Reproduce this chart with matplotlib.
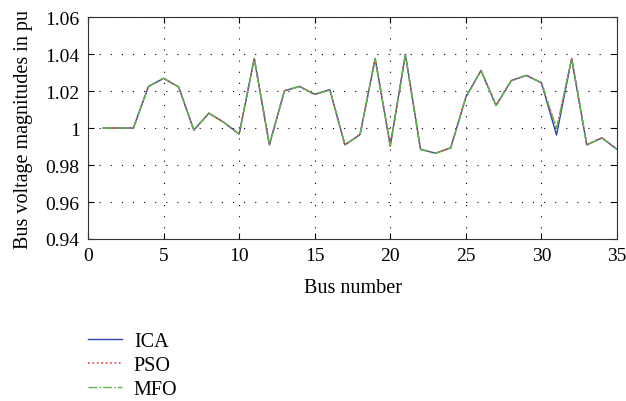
import matplotlib
matplotlib.use('Agg')
import matplotlib.pyplot as plt

plt.rcParams['font.family'] = ['Liberation Serif', 'DejaVu Serif']

bus = list(range(1, 36))
ica = [1.000, 1.000, 1.000, 1.0225, 1.0269, 1.0222, 0.9989, 1.008, 1.003, 0.9967,
       1.0376, 0.9909, 1.0202, 1.0225, 1.0182, 1.0207, 0.9909, 0.9965, 1.0376, 0.9904,
       1.0398, 0.9885, 0.9864, 0.9893, 1.0167, 1.0311, 1.0122, 1.0256, 1.0285, 1.0245,
       0.9962, 1.0376, 0.9909, 0.9947, 0.9885]
pso = ica[:30] + [0.9995] + ica[31:]
mfo = ica[:30] + [0.9995] + ica[31:]

fig = plt.figure(figsize=(6.26, 4.02), dpi=100)
ax = fig.add_axes([0.1406, 0.403, 0.845, 0.552])

ax.plot(bus, ica, '-', color='#2b45b0', lw=1.0, label='ICA')
ax.plot(bus, pso, ':', color='#e8413c', lw=1.2, label='PSO')
ax.plot(bus, mfo, '-.', color='#5cb844', lw=1.0, label='MFO')

ax.set_xlim(0, 35)
ax.set_ylim(0.94, 1.06)
ax.set_xticks([0, 5, 10, 15, 20, 25, 30, 35])
ax.set_yticks([0.94, 0.96, 0.98, 1.0, 1.02, 1.04, 1.06])
ax.set_yticklabels(['0.94', '0.96', '0.98', '1', '1.02', '1.04', '1.06'])
ax.grid(True, linestyle=(0, (1, 9)), color='black', lw=0.8)
ax.tick_params(direction='in', labelsize=14, top=True, right=True, length=4)
ax.tick_params(axis='x', pad=6)
ax.tick_params(axis='y', pad=6)
ax.set_xlabel('Bus number', fontsize=14.5, labelpad=10)
ax.set_ylabel('Bus voltage magnitudes in pu', fontsize=14.5, labelpad=9)
for s in ax.spines.values():
    s.set_color('#333333')

fig.legend(loc='upper left', bbox_to_anchor=(0.111, 0.218), frameon=False,
           fontsize=14.5, handlelength=1.7, labelspacing=0.25, handletextpad=0.6)

fig.savefig('out.png', dpi=100)
